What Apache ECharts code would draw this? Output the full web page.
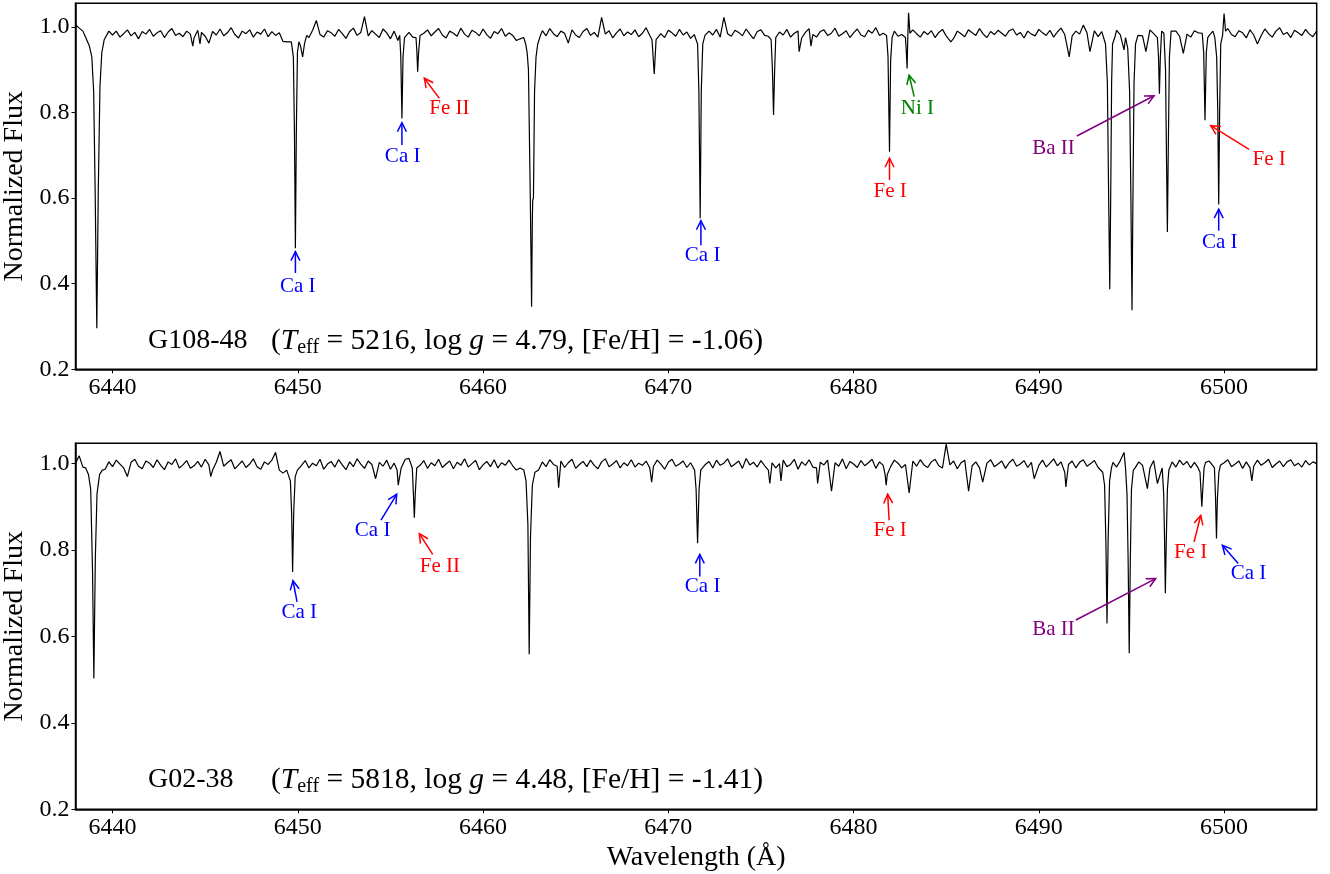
<!DOCTYPE html>
<html lang="en">
<head>
    <meta charset="UTF-8">
    <title>Spectra</title>
    <script src="https://cdn.jsdelivr.net/npm/echarts@6/dist/echarts.min.js"></script>
</head>
<body style="margin:0;">
<div id="chart" style="width:1330px;height:874px;"></div>
<script>
    //波长网格: 6438.0 起, 每 0.2 A 一个点
    var WAVE_START = 6438;
    var WAVE_STEP = 0.2;

    //上图 G108-48 连续谱 (每行 2 A)
    var cont1 = [
        1.005, 0.997, 0.990, 0.980, 0.960, 0.900, 0.900, 0.960, 0.975, 0.990, // 6438
        0.981, 0.990, 0.976, 0.984, 0.993, 0.979, 0.987, 0.972, 0.989, 0.983, // 6440
        0.994, 0.978, 0.986, 0.991, 0.975, 0.988, 0.996, 0.980, 0.985, 0.977, // 6442
        0.990, 0.983, 0.974, 0.992, 0.987, 0.978, 0.962, 0.989, 0.981, 0.995, // 6444
        0.979, 0.986, 0.998, 0.982, 0.974, 0.990, 0.984, 0.993, 0.976, 0.988, // 6446
        0.983, 0.995, 0.977, 0.989, 0.980, 0.986, 0.966, 0.975, 0.970, 0.960, // 6448
        0.960, 0.950, 0.960, 0.975, 0.992, 1.015, 0.982, 0.976, 0.991, 0.986, // 6450
        0.978, 0.994, 0.984, 0.973, 0.989, 0.997, 0.980, 0.987, 1.024, 0.979, // 6452
        0.991, 0.983, 0.975, 0.995, 0.986, 0.972, 0.990, 0.968, 0.930, 0.985, // 6454
        0.987, 0.976, 0.980, 0.940, 0.985, 0.993, 0.979, 0.988, 0.996, 0.981, // 6456
        0.974, 0.990, 0.985, 0.978, 0.997, 0.983, 0.976, 0.992, 0.987, 0.979, // 6458
        0.995, 0.982, 0.973, 0.989, 0.984, 0.996, 0.978, 0.986, 0.980, 0.968, // 6460
        0.972, 0.960, 0.900, 0.900, 0.950, 0.970, 0.991, 0.979, 0.996, 0.984, // 6462
        0.977, 0.990, 0.985, 0.962, 0.993, 0.981, 0.975, 0.989, 0.996, 0.980, // 6464
        0.987, 0.976, 1.022, 0.983, 0.991, 0.974, 0.986, 0.995, 0.979, 0.988, // 6466
        0.982, 0.993, 0.977, 0.985, 0.998, 0.980, 0.930, 0.990, 0.984, 0.975, // 6468
        0.992, 0.986, 0.978, 0.994, 0.981, 0.988, 0.973, 0.982, 0.900, 0.960, // 6470
        0.985, 0.990, 0.981, 0.994, 0.976, 1.022, 0.984, 0.978, 0.992, 0.987, // 6472
        0.979, 0.995, 0.983, 0.972, 0.989, 0.993, 0.980, 0.978, 0.900, 0.960, // 6474
        0.988, 0.981, 0.994, 0.976, 0.985, 0.990, 0.974, 0.987, 0.996, 0.982, // 6476
        0.976, 0.989, 0.993, 0.980, 0.985, 0.997, 0.978, 0.984, 0.991, 0.975, // 6478
        0.986, 0.995, 0.981, 0.977, 0.992, 0.985, 0.998, 0.980, 0.985, 0.960, // 6480
        0.960, 0.990, 0.978, 0.982, 0.960, 0.985, 0.993, 0.984, 0.976, 0.989, // 6482
        0.982, 0.991, 0.975, 0.987, 0.994, 0.979, 0.986, 0.973, 0.990, 0.984, // 6484
        0.977, 0.993, 0.986, 0.980, 0.996, 0.983, 0.975, 0.989, 0.982, 0.992, // 6486
        0.985, 0.978, 0.991, 0.995, 0.981, 0.987, 0.974, 0.990, 0.983, 0.979, // 6488
        0.994, 0.986, 0.980, 0.992, 0.976, 0.988, 0.997, 0.982, 0.985, 0.979, // 6490
        0.990, 0.983, 1.004, 0.986, 0.980, 0.991, 0.977, 0.989, 0.960, 0.900, // 6492
        0.975, 0.992, 0.981, 0.950, 0.900, 0.900, 0.960, 0.988, 0.979, 0.950, // 6494
        0.993, 0.984, 0.960, 0.960, 0.900, 0.900, 0.985, 0.990, 0.978, 0.994, // 6496
        0.983, 0.976, 0.991, 0.986, 0.900, 0.900, 0.980, 0.990, 0.900, 0.900, // 6498
        0.990, 0.996, 0.982, 0.977, 0.991, 0.986, 0.974, 0.993, 0.981, 0.988, // 6500
        0.979, 0.995, 0.984, 0.976, 0.990, 0.998, 0.982, 0.987, 0.975, 0.992, // 6502
        0.986, 0.980, 0.994, 0.983, 0.977, 0.991                              // 6504
    ];

    //上图谱线轮廓 [波长, 流量]
    var lines1 = [
        [[6438.55, 0.975], [6438.75, 0.955], [6438.88, 0.93], [6438.98, 0.85], [6439.06, 0.62], [6439.15, 0.296], [6439.23, 0.62], [6439.32, 0.86], [6439.42, 0.94], [6439.55, 0.97]],
        [[6444.33, 0.955]],
        [[6444.72, 0.96]],
        [[6449.43, 0.965]],
        [[6449.65, 0.965], [6449.76, 0.93], [6449.82, 0.75], [6449.87, 0.483], [6449.92, 0.75], [6449.98, 0.94], [6450.06, 0.965], [6450.15, 0.955], [6450.26, 0.93], [6450.36, 0.96], [6450.48, 0.98]],
        [[6455.5, 0.98], [6455.56, 0.93], [6455.62, 0.786], [6455.68, 0.93], [6455.76, 0.975]],
        [[6456.38, 0.975], [6456.43, 0.94], [6456.47, 0.895], [6456.52, 0.94], [6456.6, 0.98]],
        [[6462.2, 0.975], [6462.3, 0.96], [6462.38, 0.94], [6462.45, 0.9], [6462.55, 0.6], [6462.62, 0.346], [6462.66, 0.55], [6462.68, 0.595], [6462.72, 0.6], [6462.78, 0.85], [6462.86, 0.93], [6462.95, 0.96], [6463.1, 0.98]],
        [[6464.7, 0.96]],
        [[6469.12, 0.97], [6469.24, 0.89], [6469.34, 0.97]],
        [[6471.5, 0.98], [6471.58, 0.96], [6471.65, 0.85], [6471.72, 0.553], [6471.78, 0.85], [6471.86, 0.96], [6471.98, 0.98]],
        [[6475.55, 0.97], [6475.62, 0.9], [6475.68, 0.794], [6475.74, 0.9], [6475.8, 0.975]],
        [[6477.06, 0.942]],
        [[6477.7, 0.955]],
        [[6481.78, 0.98], [6481.86, 0.93], [6481.94, 0.708], [6482.0, 0.92], [6482.08, 0.975]],
        [[6482.8, 0.975], [6482.85, 0.94], [6482.89, 0.903], [6482.93, 0.98], [6482.97, 1.033], [6483.04, 0.985]],
        [[6485.25, 0.965]],
        [[6491.64, 0.93]],
        [[6492.76, 0.942]],
        [[6493.5, 0.985], [6493.6, 0.96], [6493.7, 0.87], [6493.77, 0.6], [6493.83, 0.387], [6493.88, 0.6], [6493.93, 0.87], [6493.98, 0.96], [6494.1, 0.975]],
        [[6494.6, 0.946]],
        [[6494.68, 0.975], [6494.8, 0.95], [6494.9, 0.85], [6494.97, 0.6], [6495.03, 0.338], [6495.08, 0.6], [6495.14, 0.87], [6495.22, 0.96], [6495.35, 0.98]],
        [[6495.78, 0.942]],
        [[6496.4, 0.975], [6496.46, 0.93], [6496.51, 0.844], [6496.56, 0.93], [6496.63, 0.99], [6496.75, 0.985], [6496.84, 0.9], [6496.89, 0.7], [6496.94, 0.521], [6496.99, 0.72], [6497.05, 0.93], [6497.14, 0.99]],
        [[6497.8, 0.938]],
        [[6498.82, 0.985], [6498.9, 0.94], [6498.97, 0.782], [6499.04, 0.94], [6499.12, 0.975]],
        [[6499.5, 0.975], [6499.6, 0.93], [6499.66, 0.8], [6499.71, 0.585], [6499.76, 0.8], [6499.82, 0.96], [6499.92, 0.98], [6500.0, 1.031], [6500.08, 0.99]],
        [[6501.8, 0.96]]
    ];

    //下图 G02-38 连续谱
    var cont2 = [
        1.000, 1.018, 0.992, 0.985, 0.950, 0.900, 0.900, 0.960, 0.987, 1.004, // 6438
        0.993, 1.008, 0.999, 0.990, 0.985, 1.003, 1.010, 0.994, 0.988, 1.006, // 6440
        1.001, 0.991, 1.009, 0.996, 0.986, 1.004, 0.998, 1.011, 0.990, 0.997, // 6442
        1.007, 0.989, 0.995, 1.005, 0.992, 1.010, 0.997, 0.985, 1.003, 1.028, // 6444
        0.994, 1.002, 1.009, 0.988, 0.997, 1.006, 0.991, 0.999, 1.011, 0.993, // 6446
        0.987, 1.004, 0.998, 1.008, 1.026, 0.985, 0.978, 0.985, 0.960, 0.960, // 6448
        0.960, 0.996, 1.007, 0.990, 1.001, 0.995, 1.010, 0.987, 0.999, 1.005, // 6450
        0.992, 1.009, 0.997, 0.986, 1.004, 0.993, 1.011, 0.999, 0.989, 1.006, // 6452
        0.998, 0.990, 1.003, 0.994, 1.008, 0.987, 1.001, 0.960, 0.960, 1.010, // 6454
        1.012, 0.960, 0.960, 0.996, 1.007, 0.989, 1.002, 0.995, 1.010, 0.991, // 6456
        0.999, 1.006, 0.988, 1.003, 0.996, 1.011, 0.992, 1.000, 1.007, 0.986, // 6458
        0.997, 1.005, 0.993, 1.009, 0.990, 1.002, 0.996, 1.008, 0.995, 0.985, // 6460
        0.990, 0.975, 0.960, 0.900, 0.950, 0.985, 1.004, 0.993, 1.009, 0.998, // 6462
        0.994, 1.006, 0.991, 1.002, 1.010, 0.989, 0.998, 1.005, 0.993, 1.008, // 6464
        0.996, 0.988, 1.004, 1.011, 0.993, 0.999, 1.007, 0.990, 1.002, 0.995, // 6466
        1.009, 0.992, 1.001, 0.996, 1.006, 0.990, 0.994, 1.008, 0.999, 0.987, // 6468
        1.003, 1.010, 0.994, 0.999, 1.006, 0.991, 1.002, 0.990, 0.900, 0.950, // 6470
        0.998, 1.005, 0.990, 1.008, 0.996, 1.001, 1.011, 0.993, 0.999, 1.006, // 6472
        0.989, 1.012, 0.997, 1.003, 0.992, 1.007, 0.995, 0.985, 1.002, 0.990, // 6474
        1.000, 1.008, 0.993, 0.998, 1.010, 0.987, 1.004, 0.996, 1.009, 0.992, // 6476
        0.990, 1.003, 0.997, 1.008, 0.980, 1.002, 0.994, 1.011, 0.988, 1.005, // 6478
        0.999, 0.991, 1.007, 0.995, 1.002, 1.010, 0.989, 1.004, 0.996, 1.000, // 6480
        0.993, 1.008, 1.001, 0.990, 0.998, 0.960, 1.006, 0.994, 1.009, 0.997, // 6482
        0.991, 1.004, 1.010, 0.995, 0.990, 1.045, 0.997, 1.006, 0.988, 1.002, // 6484
        1.008, 0.960, 0.995, 1.004, 0.990, 0.960, 1.001, 1.009, 0.993, 0.999, // 6486
        1.006, 0.989, 1.002, 1.010, 0.994, 0.999, 1.007, 0.991, 1.003, 0.985, // 6488
        0.996, 1.008, 0.992, 1.001, 1.011, 0.995, 1.004, 0.980, 0.998, 1.006, // 6490
        0.990, 1.003, 1.009, 0.994, 1.000, 1.007, 0.991, 0.995, 0.998, 0.990, // 6492
        1.003, 0.992, 1.007, 1.026, 0.960, 0.900, 0.990, 1.004, 0.996, 0.990, // 6494
        0.990, 1.007, 0.995, 0.995, 0.900, 0.960, 1.004, 0.992, 1.008, 0.997, // 6496
        1.005, 0.990, 1.003, 0.990, 0.950, 1.003, 1.006, 0.995, 0.960, 0.996, // 6498
        1.002, 1.009, 0.993, 0.999, 1.006, 0.989, 1.004, 0.990, 0.994, 1.008, // 6500
        0.996, 1.002, 1.010, 0.991, 0.999, 1.006, 0.993, 1.004, 1.009, 0.995, // 6502
        1.001, 0.992, 1.007, 0.997, 1.004, 1.000                              // 6504
    ];

    var lines2 = [
        [[6438.55, 0.99], [6438.7, 0.975], [6438.82, 0.94], [6438.92, 0.75], [6438.99, 0.503], [6439.07, 0.78], [6439.16, 0.93], [6439.3, 0.975], [6439.45, 0.985]],
        [[6440.8, 0.97]],
        [[6445.3, 0.97]],
        [[6449.5, 0.985], [6449.6, 0.96], [6449.67, 0.88], [6449.72, 0.749], [6449.78, 0.89], [6449.86, 0.97], [6449.98, 0.985]],
        [[6454.2, 0.965]],
        [[6455.36, 0.985], [6455.42, 0.95], [6455.47, 0.946], [6455.52, 0.95], [6455.58, 0.99]],
        [[6456.18, 0.99], [6456.24, 0.93], [6456.29, 0.875], [6456.34, 0.93], [6456.42, 0.99]],
        [[6462.2, 0.985], [6462.32, 0.96], [6462.42, 0.86], [6462.49, 0.559], [6462.56, 0.83], [6462.66, 0.95], [6462.8, 0.98]],
        [[6464.08, 0.944]],
        [[6469.1, 0.957]],
        [[6471.42, 0.985], [6471.5, 0.94], [6471.58, 0.816], [6471.66, 0.94], [6471.75, 0.985]],
        [[6475.48, 0.954]],
        [[6476.08, 0.96]],
        [[6478.06, 0.954]],
        [[6478.81, 0.936]],
        [[6481.7, 0.975], [6481.76, 0.95], [6481.82, 0.975]],
        [[6483.0, 0.932]],
        [[6486.21, 0.936]],
        [[6486.97, 0.957]],
        [[6489.75, 0.965]],
        [[6491.46, 0.946]],
        [[6493.45, 0.98], [6493.55, 0.95], [6493.62, 0.82], [6493.68, 0.63], [6493.74, 0.82], [6493.82, 0.96], [6493.92, 0.99]],
        [[6494.68, 0.99], [6494.76, 0.93], [6494.82, 0.78], [6494.88, 0.561], [6494.94, 0.78], [6495.0, 0.94], [6495.1, 0.985]],
        [[6495.86, 0.942]],
        [[6496.4, 0.954]],
        [[6496.66, 0.99], [6496.74, 0.93], [6496.79, 0.82], [6496.83, 0.70], [6496.88, 0.82], [6496.94, 0.94], [6497.02, 0.985]],
        [[6498.7, 0.98], [6498.75, 0.94], [6498.8, 0.9], [6498.85, 0.94], [6498.92, 0.99]],
        [[6499.48, 0.99], [6499.54, 0.92], [6499.59, 0.827], [6499.64, 0.92], [6499.72, 0.98]],
        [[6501.5, 0.96]]
    ];

    //谱线标注: 名称, 箭头尖, 箭尾, 文字位置
    var annoLabel1 = ['Ca I', 'Ca I', 'Fe II', 'Ca I', 'Fe I', 'Ni I', 'Ba II', 'Fe I', 'Ca I'];
    var annoTip1 = [[6449.87, 0.475], [6455.62, 0.776], [6456.83, 0.88], [6471.76, 0.547], [6481.94, 0.693], [6483.0, 0.887], [6496.22, 0.839], [6499.28, 0.769], [6499.71, 0.574]];
    var annoTail1 = [[6449.87, 0.425], [6455.62, 0.724], [6457.64, 0.833], [6471.76, 0.49], [6481.94, 0.642], [6483.27, 0.837], [6492.05, 0.745], [6501.35, 0.714], [6499.71, 0.524]];
    var annoText1 = [[6450.0, 0.393], [6455.66, 0.696], [6458.18, 0.809], [6471.85, 0.467], [6481.98, 0.615], [6483.45, 0.809], [6490.79, 0.717], [6502.43, 0.689], [6499.77, 0.497]];

    var annoLabel2 = ['Ca I', 'Ca I', 'Fe II', 'Ca I', 'Fe I', 'Ba II', 'Fe I', 'Ca I'];
    var annoTip2 = [[6449.74, 0.729], [6455.34, 0.929], [6456.56, 0.838], [6471.7, 0.79], [6481.84, 0.929], [6496.31, 0.734], [6498.74, 0.88], [6499.91, 0.811]];
    var annoTail2 = [[6449.96, 0.68], [6454.49, 0.869], [6457.28, 0.79], [6471.7, 0.739], [6481.92, 0.869], [6492.0, 0.638], [6498.38, 0.819], [6500.76, 0.769]];
    var annoText2 = [[6450.08, 0.655], [6454.04, 0.846], [6457.67, 0.761], [6471.85, 0.715], [6481.98, 0.846], [6490.79, 0.615], [6498.2, 0.794], [6501.32, 0.746]];

    var xTicks = [6440, 6450, 6460, 6470, 6480, 6490, 6500];
    var yTicks = [0.2, 0.4, 0.6, 0.8, 1.0];

    var SERIF = '"Liberation Serif", "DejaVu Serif", serif';
    var SPECIES_COLOR = {'Ca I': '#0000ff', 'Fe I': '#ff0000', 'Fe II': '#ff0000', 'Ni I': '#008000', 'Ba II': '#800080'};

    //连续谱 + 谱线合并成一条谱
    function buildSpectrum(cont, lines) {
        var spans = lines.map(function (g) {
            return [g[0][0] - 0.06, g[g.length - 1][0] + 0.06];
        });
        var pts = [];
        for (var i = 0; i < cont.length; i++) {
            var w = +(WAVE_START + i * WAVE_STEP).toFixed(2);
            var inside = spans.some(function (s) { return w > s[0] && w < s[1]; });
            if (!inside) pts.push([w, cont[i]]);
        }
        lines.forEach(function (g) {
            g.forEach(function (p) { pts.push(p); });
        });
        pts.sort(function (a, b) { return a[0] - b[0]; });
        return pts;
    }

    function annoRenderer(labels, tails, texts) {
        return function (params, api) {
            var i = params.dataIndex;
            var color = SPECIES_COLOR[labels[i]];
            var tip = api.coord([api.value(0), api.value(1)]);
            var tail = api.coord(tails[i]);
            var txt = api.coord(texts[i]);
            var ang = Math.atan2(tip[1] - tail[1], tip[0] - tail[0]);
            var hl = 9, hw = 4.5;
            var bx = tip[0] - hl * Math.cos(ang), by = tip[1] - hl * Math.sin(ang);
            var px = -Math.sin(ang) * hw, py = Math.cos(ang) * hw;
            return {
                type: 'group',
                children: [
                    {type: 'line', shape: {x1: tail[0], y1: tail[1], x2: tip[0], y2: tip[1]},
                        style: {stroke: color, lineWidth: 1.5}},
                    {type: 'polyline', shape: {points: [[bx + px, by + py], tip, [bx - px, by - py]]},
                        style: {stroke: color, lineWidth: 1.5, fill: null}},
                    {type: 'text', x: txt[0], y: txt[1],
                        style: {text: labels[i], fill: color, font: '21px ' + SERIF, align: 'center', verticalAlign: 'middle'}}
                ]
            };
        };
    }

    function makeXAxis(idx, withName) {
        return {
            type: 'value', gridIndex: idx, min: 6438, max: 6505,
            name: withName ? 'Wavelength (\u00c5)' : '',
            nameLocation: 'middle', nameGap: 34,
            nameTextStyle: {fontFamily: SERIF, fontSize: 28, color: '#000'},
            axisLine: {show: true, onZero: false, lineStyle: {color: '#000', width: 1.5}},
            axisTick: {show: true, length: 4, customValues: xTicks, lineStyle: {color: '#000', width: 1}},
            axisLabel: {customValues: xTicks, margin: 6, fontFamily: SERIF, fontSize: 24, color: '#000',
                formatter: function (v) { return String(v); }},
            splitLine: {show: false}
        };
    }

    function makeYAxis(idx, max) {
        return {
            type: 'value', gridIndex: idx, min: 0.2, max: max,
            name: 'Normalized Flux', nameLocation: 'middle', nameGap: 42,
            nameTextStyle: {fontFamily: SERIF, fontSize: 28, color: '#000'},
            axisLine: {show: true, onZero: false, lineStyle: {color: '#000', width: 1.5}},
            axisTick: {show: true, length: 4, customValues: yTicks, lineStyle: {color: '#000', width: 1}},
            axisLabel: {customValues: yTicks, margin: 6, fontFamily: SERIF, fontSize: 24, color: '#000',
                formatter: function (v) { return v.toFixed(1); }},
            splitLine: {show: false}
        };
    }

    var paramRich = {
        n: {fontFamily: SERIF, fontSize: 29.5, color: '#000'},
        i: {fontFamily: SERIF, fontSize: 29.5, fontStyle: 'italic', color: '#000'},
        s: {fontFamily: SERIF, fontSize: 20, color: '#000', padding: [14, 0, 0, 0]}
    };

    function starLabel(y, name, teff, logg, feh) {
        return [
            {type: 'text', x: 148, y: y, style: {text: name, font: '28px ' + SERIF, fill: '#000', verticalAlign: 'middle'}},
            {type: 'text', x: 271, y: y, style: {
                text: '{n|(}{i|T}{s|eff}{n| = ' + teff + ', log }{i|g}{n| = ' + logg + ', [Fe/H] = ' + feh + ')}',
                rich: paramRich, verticalAlign: 'middle'}}
        ];
    }

    var chart = echarts.init(document.getElementById('chart'));
    chart.setOption({
        animation: false,
        backgroundColor: '#fff',
        grid: [
            {left: 75.5, top: 3.3, right: 13.3, height: 366, show: true, borderColor: '#000', borderWidth: 1.5,
                containLabel: false, outerBoundsMode: 'none'},
            {left: 75.5, top: 443.3, right: 13.3, height: 366, show: true, borderColor: '#000', borderWidth: 1.5,
                containLabel: false, outerBoundsMode: 'none'}
        ],
        xAxis: [makeXAxis(0, false), makeXAxis(1, true)],
        yAxis: [makeYAxis(0, 1.055), makeYAxis(1, 1.047)],
        graphic: starLabel(341, 'G108-48', 5216, 4.79, '-1.06').concat(starLabel(780, 'G02-38', 5818, 4.48, '-1.41')),
        series: [
            {type: 'line', xAxisIndex: 0, yAxisIndex: 0, data: buildSpectrum(cont1, lines1),
                showSymbol: false, lineStyle: {color: '#000', width: 1.2}, silent: true},
            {type: 'line', xAxisIndex: 1, yAxisIndex: 1, data: buildSpectrum(cont2, lines2),
                showSymbol: false, lineStyle: {color: '#000', width: 1.2}, silent: true},
            {type: 'custom', xAxisIndex: 0, yAxisIndex: 0, data: annoTip1, clip: false, silent: true, z: 10,
                renderItem: annoRenderer(annoLabel1, annoTail1, annoText1)},
            {type: 'custom', xAxisIndex: 1, yAxisIndex: 1, data: annoTip2, clip: false, silent: true, z: 10,
                renderItem: annoRenderer(annoLabel2, annoTail2, annoText2)}
        ]
    });
</script>
</body>
</html>
